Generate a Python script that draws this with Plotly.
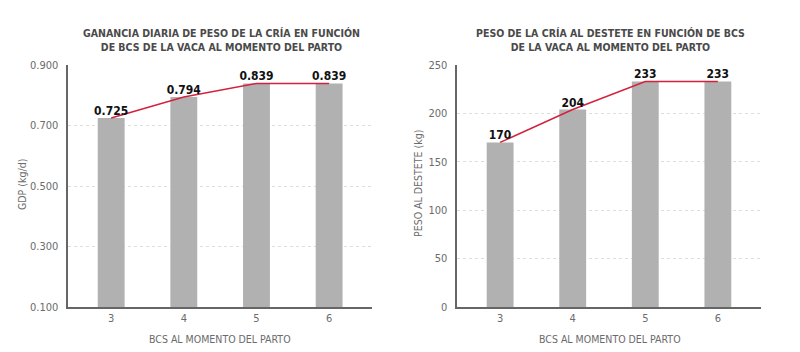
import plotly.graph_objects as go

categories = ["3", "4", "5", "6"]
gdp_values = [0.725, 0.794, 0.839, 0.839]
gdp_labels = ["0.725", "0.794", "0.839", "0.839"]
peso_values = [170, 204, 233, 233]
peso_labels = ["170", "204", "233", "233"]
gdp_ticks = [0.1, 0.3, 0.5, 0.7, 0.9]
peso_ticks = [0, 50, 100, 150, 200, 250]

title_left = "GANANCIA DIARIA DE PESO DE LA CRÍA EN FUNCIÓN<br>DE BCS DE LA VACA AL MOMENTO DEL PARTO"
title_right = "PESO DE LA CRÍA AL DESTETE EN FUNCIÓN DE BCS<br>DE LA VACA AL MOMENTO DEL PARTO"
xtitle = "BCS AL MOMENTO DEL PARTO"
ytitle_left = "GDP (kg/d)"
ytitle_right = "PESO AL DESTETE (kg)"

FONT = "DejaVu Sans Condensed, sans-serif"
BAR = "#b1b1b1"
RED = "#d4213d"
AX = "#666666"
TXT = "#6b6b6b"

fig = go.Figure()

for vals, labels, xa, ya in [(gdp_values, gdp_labels, "x", "y"), (peso_values, peso_labels, "x2", "y2")]:
    fig.add_trace(go.Bar(x=categories, y=vals, width=0.37, marker=dict(color=BAR, line=dict(width=0)),
                         xaxis=xa, yaxis=ya, showlegend=False, hoverinfo="skip"))
    fig.add_trace(go.Scatter(x=categories, y=vals, mode="lines+text", text=labels,
                             textposition="top center",
                             textfont=dict(family=FONT, size=12, color="#111111", weight="bold"),
                             line=dict(color=RED, width=1.5), xaxis=xa, yaxis=ya,
                             showlegend=False, hoverinfo="skip", cliponaxis=False))

y_dom = [1 - 307 / 352, 1 - 65 / 352]
xcommon = dict(type="category", range=[-0.59, 3.59], showgrid=False, showline=True,
               linecolor=AX, linewidth=1.5, ticks="", zeroline=False, automargin=False,
               tickfont=dict(family=FONT, size=11, color=TXT), fixedrange=True)
ycommon = dict(showgrid=True, gridcolor="#dddddd", griddash="dot", gridwidth=1,
               showline=True, linecolor=AX, linewidth=1.5, ticks="", zeroline=False, automargin=False,
               tickfont=dict(family=FONT, size=11, color=TXT), ticklabelstandoff=6, fixedrange=True)

fig.update_layout(
    width=800, height=352, margin=dict(l=0, r=0, t=0, b=0, autoexpand=False),
    paper_bgcolor="white", plot_bgcolor="white",
    xaxis=dict(domain=[68.3 / 800, 372 / 800], anchor="y", **xcommon),
    xaxis2=dict(domain=[457.3 / 800, 760.7 / 800], anchor="y2", **xcommon),
    yaxis=dict(domain=y_dom, anchor="x", range=[0.1, 0.9], tickvals=gdp_ticks,
               tickformat=".3f", **ycommon),
    yaxis2=dict(domain=y_dom, anchor="x2", range=[0, 250], tickvals=peso_ticks, **ycommon),
    bargap=0.6,
)

anns = [
    dict(text=title_left, x=221 / 800, y=1 - 40 / 352, font=dict(family=FONT, size=10.5, color="#4a4a4a", weight="bold")),
    dict(text=title_right, x=610 / 800, y=1 - 40 / 352, font=dict(family=FONT, size=10.5, color="#4a4a4a", weight="bold")),
    dict(text=xtitle, x=220 / 800, y=1 - 339 / 352, font=dict(family=FONT, size=10.5, color=TXT)),
    dict(text=xtitle, x=610 / 800, y=1 - 339 / 352, font=dict(family=FONT, size=10.5, color=TXT)),
    dict(text=ytitle_left, x=22 / 800, y=1 - 185 / 352, textangle=-90, font=dict(family=FONT, size=10.5, color=TXT)),
    dict(text=ytitle_right, x=418 / 800, y=1 - 184 / 352, textangle=-90, font=dict(family=FONT, size=10.5, color=TXT)),
]
for a in anns:
    fig.add_annotation(xref="paper", yref="paper", xanchor="center", yanchor="middle",
                       showarrow=False, **a)

fig.write_html("out.html")
